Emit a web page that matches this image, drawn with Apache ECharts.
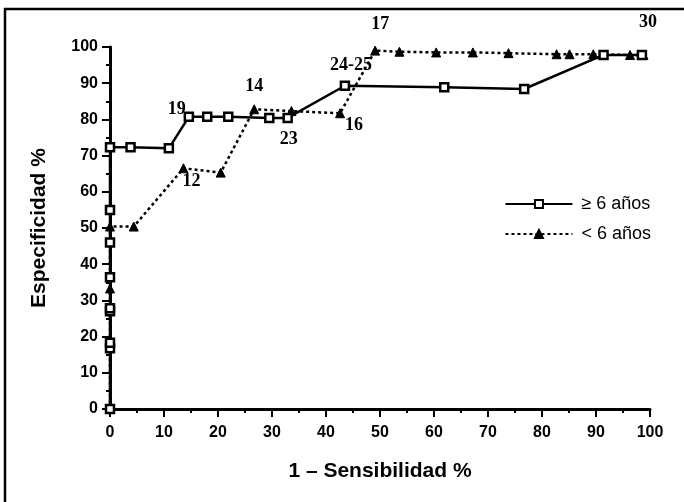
<!DOCTYPE html>
<html>
<head>
<meta charset="utf-8">
<script src="https://cdn.jsdelivr.net/npm/echarts@6/dist/echarts.min.js"></script>
<style>
  html, body { margin: 0; padding: 0; background: #fff; }
  #main { width: 684px; height: 502px; }
</style>
</head>
<body>
<div id="main"></div>
<script>
// >= 6 años (squares, solid line)
const mayores = [
  [0, 0], [0, 16.8], [0, 18.3], [0, 27], [0, 27.8], [0, 36.4], [0, 46], [0, 55], [0, 72.3],
  [3.8, 72.3], [10.9, 72], [14.6, 80.7], [18, 80.7], [21.9, 80.7], [29.5, 80.4], [32.9, 80.4],
  [43.5, 89.3], [61.9, 88.9], [76.7, 88.4], [91.4, 97.8], [98.5, 97.8]
]
// < 6 años (triangles, dotted line)
const menores = [
  [0, 0], [0, 33.3], [0, 50.4], [4.4, 50.4], [13.6, 66.5], [20.5, 65.3], [26.7, 82.8],
  [33.6, 82.3], [42.6, 81.7], [49.1, 99], [53.6, 98.7], [60.4, 98.5], [67.2, 98.5],
  [73.8, 98.3], [82.7, 98], [85.1, 98], [89.5, 98], [96.3, 97.8], [98.8, 97.8]
]
// cut-off point labels: [x, y, text]
const puntos = [
  [14.6, 80.7, '19'], [13.6, 66.5, '12'], [26.7, 82.8, '14'], [32.9, 80.4, '23'],
  [43.5, 89.3, '24-25'], [42.6, 81.7, '16'], [49.1, 99, '17'], [98.5, 97.8, '30']
]
const labelOffsets = {
  '19': [-12, -8], '12': [8, 13], '14': [0, -23], '23': [1, 21],
  '24-25': [6, -20], '16': [14, 12], '17': [5, -26], '30': [6, -33]
}
const xTicks = [0, 100, 10]
const yTicks = [0, 100, 10]

const tickFont = { fontFamily: 'Liberation Sans Narrow, Arial Narrow, Liberation Sans, Arial', fontWeight: 'bold', fontSize: 16, color: '#000' }

let myChart = echarts.init(document.getElementById('main'))
let option = {
  animation: false,
  backgroundColor: '#fff',
  graphic: [{
    type: 'rect',
    shape: { x: 5, y: 9, width: 700, height: 520 },
    style: { fill: 'none', stroke: '#000', lineWidth: 2.5 }
  }],
  grid: { left: 110, right: 34, top: 47, bottom: 93 },
  legend: {
    right: 28,
    top: 190,
    orient: 'vertical',
    itemGap: 12,
    itemWidth: 67,
    itemHeight: 10,
    textStyle: { fontFamily: 'Liberation Sans, Arial', fontSize: 18, color: '#000', padding: [0, 0, 0, 4] },
    data: ['\u2265 6 años', '< 6 años']
  },
  xAxis: {
    type: 'value',
    min: xTicks[0], max: xTicks[1], interval: xTicks[2],
    name: '1 \u2013 Sensibilidad %',
    nameLocation: 'middle',
    nameGap: 52,
    nameTextStyle: { fontFamily: 'Liberation Sans, Arial', fontWeight: 'bold', fontSize: 21, color: '#000' },
    axisLine: { lineStyle: { color: '#000', width: 3 } },
    axisTick: { show: true, length: 8, lineStyle: { color: '#000', width: 2 } },
    minorTick: { show: true, splitNumber: 2, length: 4, lineStyle: { color: '#000', width: 2 } },
    axisLabel: Object.assign({ margin: 16 }, tickFont),
    splitLine: { show: false }
  },
  yAxis: {
    type: 'value',
    min: yTicks[0], max: yTicks[1], interval: yTicks[2],
    name: 'Especificidad %',
    nameLocation: 'middle',
    nameGap: 60,
    nameTextStyle: { fontFamily: 'Liberation Sans, Arial', fontWeight: 'bold', fontSize: 21, color: '#000' },
    axisLine: { lineStyle: { color: '#000', width: 3 } },
    axisTick: { show: true, length: 8, lineStyle: { color: '#000', width: 2 } },
    minorTick: { show: true, splitNumber: 2, length: 4, lineStyle: { color: '#000', width: 2 } },
    axisLabel: Object.assign({ margin: 12 }, tickFont),
    splitLine: { show: false }
  },
  series: [
    {
      name: '\u2265 6 años',
      type: 'line',
      data: mayores,
      symbol: 'rect',
      symbolSize: 8,
      lineStyle: { color: '#000', width: 2.5, type: 'solid' },
      itemStyle: { color: '#fff', borderColor: '#000', borderWidth: 2.5 },
      z: 3
    },
    {
      name: '< 6 años',
      type: 'line',
      data: menores,
      symbol: 'triangle',
      symbolSize: 9,
      lineStyle: { color: '#000', width: 2.5, type: [3, 3] },
      itemStyle: { color: '#000', borderColor: '#000', borderWidth: 1 },
      z: 2
    },
    {
      type: 'scatter',
      data: puntos.map(p => ({
        value: [p[0], p[1]],
        label: {
          show: true,
          formatter: p[2],
          position: 'inside',
          offset: labelOffsets[p[2]],
          fontFamily: 'Liberation Serif, Times New Roman, serif',
          fontWeight: 'bold',
          fontSize: 18,
          color: '#000'
        }
      })),
      symbolSize: 0,
      itemStyle: { opacity: 1, color: '#000' },
      silent: true,
      z: 4
    }
  ]
}
myChart.setOption(option)
</script>
</body>
</html>
